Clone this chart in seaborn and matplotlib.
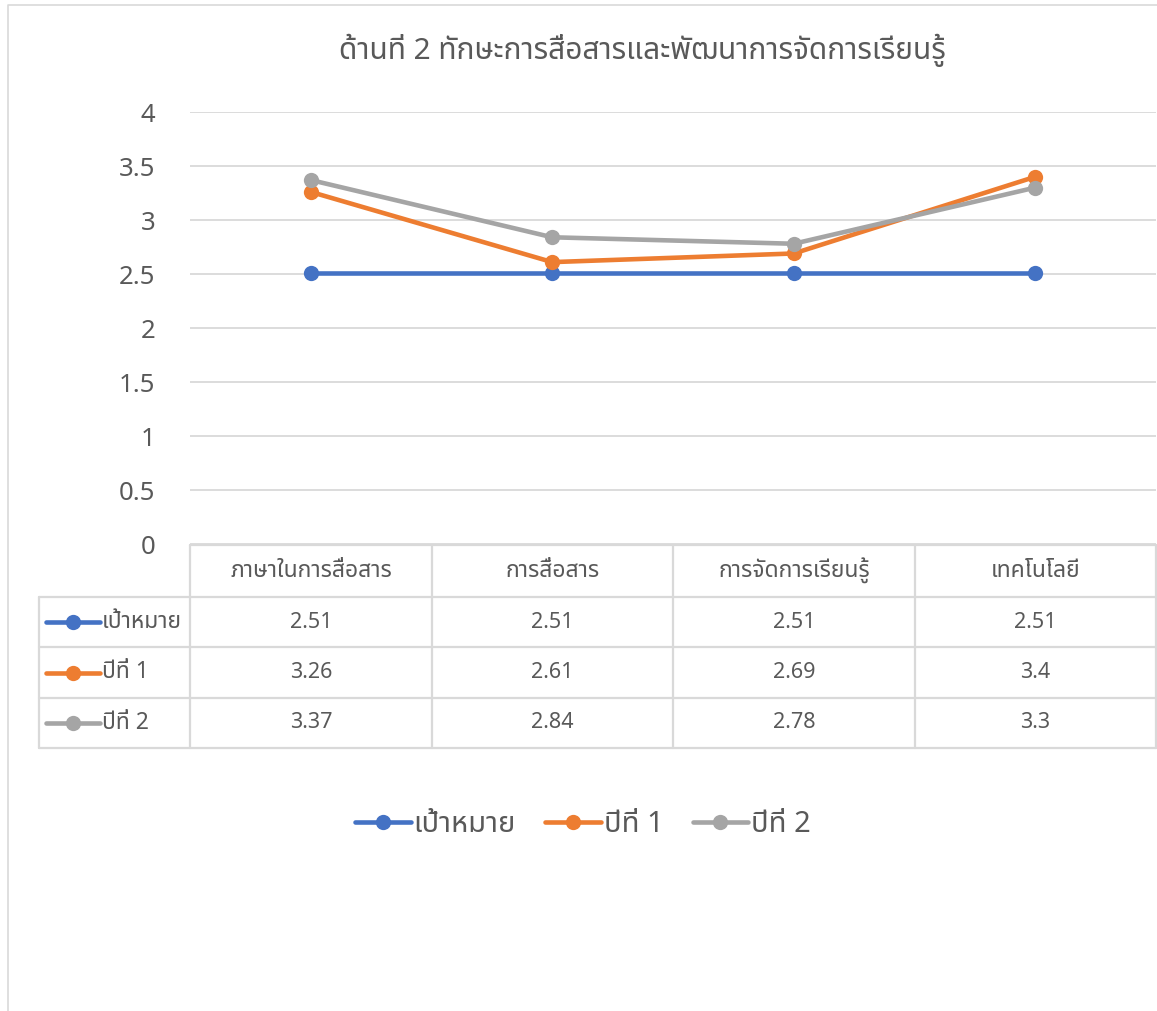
import numpy as np
import pandas as pd
import matplotlib
matplotlib.use('Agg')
from matplotlib import pyplot as plt
from matplotlib import font_manager
from matplotlib.ft2font import FT2Font
from matplotlib.lines import Line2D
import seaborn as sns

# ข้อมูล
categories = ['ภาษาในการสื่อสาร', 'การสื่อสาร', 'การจัดการเรียนรู้', 'เทคโนโลยี']
series_names = ['เป้าหมาย', 'ปีที่ 1', 'ปีที่ 2']
target = [2.51, 2.51, 2.51, 2.51]
year1 = [3.26, 2.61, 2.69, 3.4]
year2 = [3.37, 2.84, 2.78, 3.3]
colors = ['#4472C4', '#ED7D31', '#A5A5A5']
title = 'ด้านที่ 2 ทักษะการสื่อสารและพัฒนาการจัดการเรียนรู้'


# หา font ที่มีอักษรไทย
def find_thai_font():
    prefer = ['Noto Sans Thai', 'Noto Sans Thai UI', 'Loma', 'Garuda', 'Tlwg Typo', 'Noto Sans']
    found = []
    for f in font_manager.fontManager.ttflist:
        try:
            if 0x0E01 in FT2Font(f.fname).get_charmap():
                found.append(f.name)
        except Exception:
            pass
    for p in prefer:
        if p in found:
            return p
    return found[0] if found else 'DejaVu Sans'


sns.set_theme(style='white')
thai = find_thai_font()
plt.rcParams['font.family'] = [thai, 'DejaVu Sans']

df = pd.DataFrame({
    'cat': categories * 3,
    'value': target + year1 + year2,
    'series': [s for s in series_names for _ in categories],
})

W, H = 1157, 1011
fig = plt.figure(figsize=(W / 100, H / 100), dpi=100)
ax = fig.add_axes([190 / W, 1 - 544 / H, (1156 - 190) / W, (544 - 112) / H])

sns.lineplot(data=df, x='cat', y='value', hue='series', palette=colors,
             marker='o', markersize=11, markeredgewidth=0, linewidth=3.3,
             sort=False, legend=False, ax=ax)

ax.set_xlim(-0.5, 3.5)
ax.set_ylim(0, 4)
ax.set_yticks(np.arange(0, 4.01, 0.5))
ax.set_yticklabels(['0', '0.5', '1', '1.5', '2', '2.5', '3', '3.5', '4'])
ax.set_xticks([])
ax.set_xlabel('')
ax.set_ylabel('')
ax.grid(axis='y', color='#D9D9D9', linewidth=1.3)
for s in ax.spines.values():
    s.set_visible(False)
ax.tick_params(axis='y', length=0, pad=25, labelsize=18.5, labelcolor='#595959')

# ตารางข้อมูลใต้กราฟ (พิกัดเป็นพิกเซล)
tx = fig.add_axes([0, 0, 1, 1], zorder=-1)
tx.set_xlim(0, W)
tx.set_ylim(H, 0)
tx.axis('off')

col_x = [39, 190, 432, 673, 915, 1156]
row_y = [545, 597, 647, 698, 748]
gc = '#D9D9D9'
lw = 1.6
# เส้นแนวนอน
tx.plot([190, 1156], [row_y[0], row_y[0]], color=gc, lw=lw)
for yy in row_y[1:]:
    tx.plot([39, 1156], [yy, yy], color=gc, lw=lw)
# เส้นแนวตั้ง
tx.plot([39, 39], [row_y[1], row_y[-1]], color=gc, lw=lw)
for xx in col_x[1:]:
    tx.plot([xx, xx], [row_y[0], row_y[-1]], color=gc, lw=lw)

txt_col = '#595959'
for i, c in enumerate(categories):
    cx = (col_x[i + 1] + col_x[i + 2]) / 2
    tx.text(cx, (row_y[0] + row_y[1]) / 2, c, ha='center', va='center',
            fontsize=16.5, color=txt_col)

values = [target, year1, year2]
for r, (name, vals, col) in enumerate(zip(series_names, values, colors)):
    cy = (row_y[r + 1] + row_y[r + 2]) / 2
    tx.plot([46, 100], [cy, cy], color=col, lw=3.3, solid_capstyle='round')
    tx.plot([73], [cy], marker='o', color=col, markersize=11, markeredgewidth=0)
    tx.text(102, cy, name, ha='left', va='center', fontsize=16.5, color=txt_col)
    for i, v in enumerate(vals):
        cx = (col_x[i + 1] + col_x[i + 2]) / 2
        tx.text(cx, cy, f'{v:g}', ha='center', va='center', fontsize=15.5, color=txt_col)

# กรอบแผนภูมิ
tx.plot([8, 8, 1175], [1020, 5, 5], color='#D9D9D9', lw=1.2)

fig.text(642 / W, 1 - 50 / H, title, ha='center', va='center', fontsize=21.5, color='#595959')

handles = [Line2D([0], [0], color=c, lw=3.3, marker='o', markersize=11,
                  markeredgewidth=0, solid_capstyle='round') for c in colors]
fig.legend(handles, series_names, loc='center', bbox_to_anchor=(583 / W, 1 - 825 / H),
           ncol=3, frameon=False, fontsize=21, handlelength=1.9, handletextpad=0.1,
           columnspacing=1.0, labelcolor='#595959')

plt.savefig('out.png', dpi=100)
